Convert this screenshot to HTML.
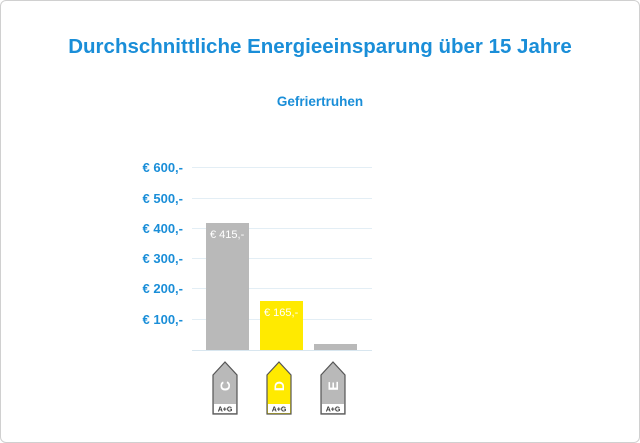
<!DOCTYPE html>
<html><head><meta charset="utf-8"><style>
body{margin:0;background:#fff;}
.w{position:relative;width:638px;height:441px;border:1px solid #d0d0d0;border-radius:6px;overflow:hidden;font-family:"Liberation Sans",sans-serif;}
.t{position:absolute;left:0;right:0;top:34px;text-align:center;color:#1a8ed8;font-weight:bold;font-size:20.5px;}
.s{position:absolute;left:0;right:0;top:93px;text-align:center;color:#1a8ed8;font-weight:bold;font-size:13.5px;}
</style></head><body><div class="w">
<div class="t">Durchschnittliche Energieeinsparung über 15 Jahre</div>
<div class="s">Gefriertruhen</div>
<svg width="640" height="443" style="position:absolute;left:-1px;top:-1px" font-family="Liberation Sans, sans-serif">
<g stroke="#e3eef5" stroke-width="1">
<line x1="192" x2="372" y1="167.5" y2="167.5"/><line x1="192" x2="372" y1="198.5" y2="198.5"/>
<line x1="192" x2="372" y1="228.5" y2="228.5"/><line x1="192" x2="372" y1="258.5" y2="258.5"/>
<line x1="192" x2="372" y1="288.5" y2="288.5"/><line x1="192" x2="372" y1="319.5" y2="319.5"/>
<line x1="192" x2="372" y1="350.5" y2="350.5" stroke="#d8e6ef"/></g>
<g fill="#1a8ed8" font-weight="bold" font-size="13" text-anchor="end">
<text x="183" y="172">€ 600,-</text><text x="183" y="203">€ 500,-</text><text x="183" y="233">€ 400,-</text>
<text x="183" y="263">€ 300,-</text><text x="183" y="293">€ 200,-</text><text x="183" y="324">€ 100,-</text></g>
<rect x="206" y="223" width="43" height="127" fill="#b9b9b9"/>
<rect x="260" y="301" width="43" height="49" fill="#ffea00"/>
<rect x="314" y="344" width="43" height="6" fill="#b9b9b9"/>
<text x="210" y="238" fill="#fff" font-size="11">€ 415,-</text>
<text x="264" y="316" fill="#fff" font-size="11">€ 165,-</text>
<g stroke="#555" stroke-width="1.2">
<path d="M213 375 L225 362 L237 375 L237 414 L213 414 Z" fill="#b9b9b9"/>
<path d="M267 375 L279 362 L291 375 L291 414 L267 414 Z" fill="#ffea00"/>
<path d="M321 375 L333 362 L345 375 L345 414 L321 414 Z" fill="#b9b9b9"/></g>
<g fill="#fff"><rect x="214" y="404" width="22" height="9"/><rect x="268" y="404" width="22" height="9"/><rect x="322" y="404" width="22" height="9"/></g>
<g fill="#fff" font-weight="bold" font-size="14" text-anchor="middle">
<text transform="translate(230,386) rotate(-90)">C</text>
<text transform="translate(284,386) rotate(-90)">D</text>
<text transform="translate(338,386) rotate(-90)">E</text></g>
<g fill="#333" font-weight="bold" font-size="7" text-anchor="middle">
<text x="225" y="411.5">A+G</text>
<text x="279" y="411.5">A+G</text>
<text x="333" y="411.5">A+G</text></g>
</svg></div></body></html>
